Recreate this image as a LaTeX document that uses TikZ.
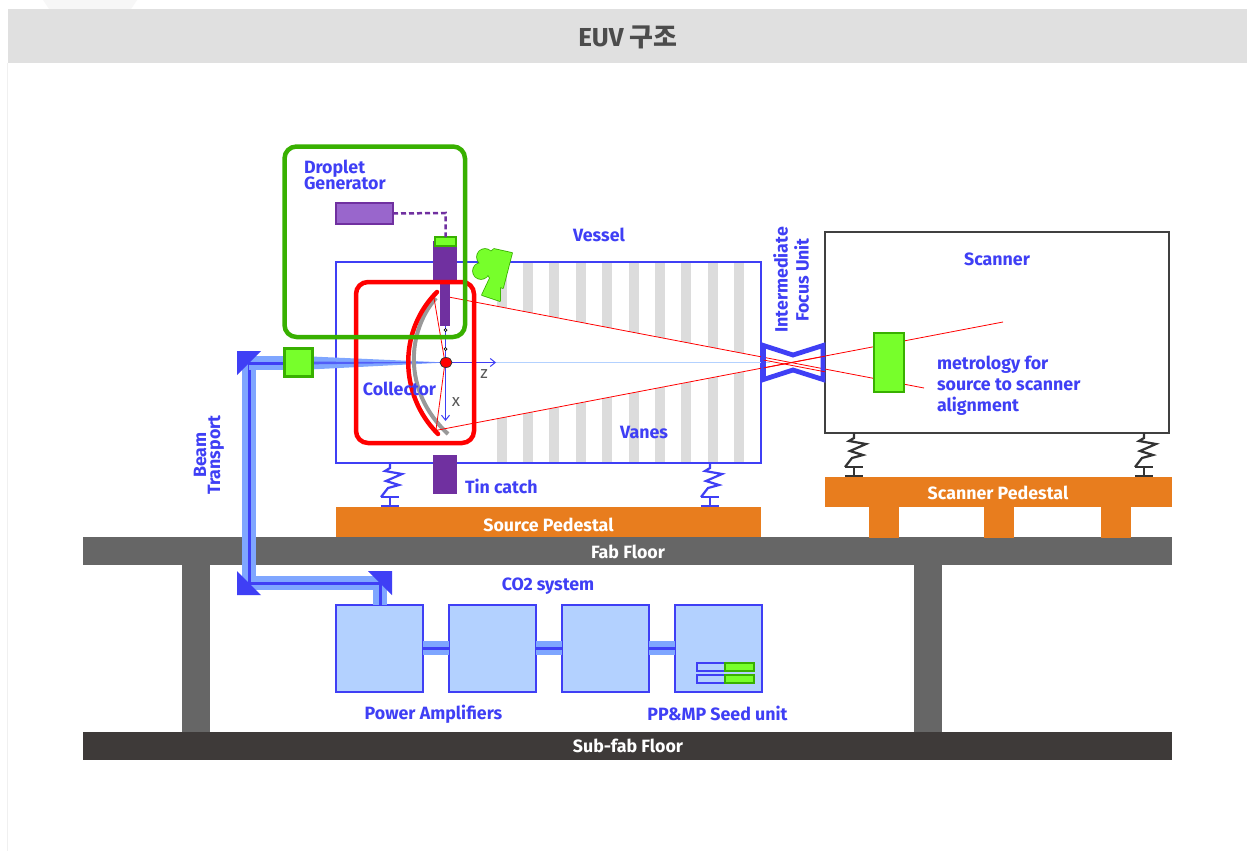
\documentclass[tikz,border=0pt]{standalone}
\usepackage{fontspec}
\setmainfont{Fira Sans}
\newfontfamily\cjk{Noto Sans CJK KR}
\usetikzlibrary{calc,arrows.meta,shapes.geometric}
\definecolor{blu}{HTML}{3F3FF5}
\definecolor{lblu}{HTML}{B3D1FF}
\definecolor{mblu}{HTML}{7FA6FF}
\definecolor{grn}{HTML}{38B000}
\definecolor{lgrn}{HTML}{77FF2B}
\definecolor{pur}{HTML}{7030A0}
\definecolor{lpur}{HTML}{9966CC}
\definecolor{org}{HTML}{E87D1E}
\definecolor{fab}{HTML}{666666}
\definecolor{sub}{HTML}{3E3A39}
\definecolor{van}{HTML}{DCDCDC}
\tikzset{
 every node/.style={outer sep=0pt},
 lbl/.style={font=\bfseries\fontsize{17.8}{16}\selectfont,text=blu,inner sep=0pt,align=left},
 wlbl/.style={font=\bfseries\fontsize{17.8}{16}\selectfont,text=white,inner sep=0pt},
 box/.style={draw=blu,line width=2.5pt,fill=lblu,anchor=north west,inner sep=0pt},
 vane/.style={fill=van,draw=none},
 beamw/.style={draw=mblu,line width=14pt},
 beamn/.style={draw=blu,line width=3pt},
 redray/.style={draw=red,line width=0.8pt},
 corner/.style={fill=blu,draw=none},
 grnbox/.style={draw=grn,line width=2.5pt,fill=lgrn,anchor=north west,inner sep=0pt},
 spring/.style={line width=2.2pt,line join=miter},
 axarrow/.style={draw=blu,line width=1pt,-{Straight Barb[length=5pt,width=8pt]}},
}
\begin{document}
\begin{tikzpicture}[x=1pt,y=-1pt,line cap=butt]
\useasboundingbox (0,0) rectangle (1247,851);
\fill[white] (0,0) rectangle (1247,851);
\fill[black!3] (43,0) -- (137,0) -- (131,9) -- (49,9) -- cycle;
\draw[draw=black!6,line width=1pt] (7.5,63) -- (7.5,851);
\node[anchor=north west,inner sep=0pt,fill=black!12,minimum width=1239pt,minimum height=54pt] (head) at (8,9) {};
\node[font=\bfseries\fontsize{26}{26}\selectfont,text=black!70,inner sep=0pt] (title) at (628,37) {EUV {\cjk 구조}};
% vanes
\foreach \x in {497,523,549,576,602,629,655,681,708,734}{\fill[vane] (\x,263) rectangle (\x+10,463);}
\fill[white] (447,296.7) -- (761,357) -- (761,368.6) -- (436,430.4) -- cycle;
% floors
\node[anchor=north west,inner sep=0pt,fill=fab,minimum width=28pt,minimum height=190pt] (colA) at (182,545) {};
\node[anchor=north west,inner sep=0pt,fill=fab,minimum width=28pt,minimum height=190pt] (colB) at (914,545) {};
\node[anchor=north west,inner sep=0pt,fill=fab,minimum width=1089pt,minimum height=28pt] (fab) at (83,537) {};
\node[wlbl] (fabL) at (628,551.5) {Fab Floor};
\node[anchor=north west,inner sep=0pt,fill=sub,minimum width=1089pt,minimum height=28pt] (subfab) at (83,732) {};
\node[wlbl] (subL) at (628,745.5) {Sub-fab Floor};
% pedestals
\node[anchor=north west,inner sep=0pt,fill=org,minimum width=425pt,minimum height=30pt] (spd) at (336,507) {};
\node[wlbl] (spdL) at (548.5,524.5) {Source Pedestal};
\foreach \x/\n in {869/a,984/b,1101/c}{\node[anchor=north west,inner sep=0pt,fill=org,minimum width=30pt,minimum height=31pt] (leg\n) at (\x,507) {};}
\node[anchor=north west,inner sep=0pt,fill=org,minimum width=347pt,minimum height=30pt] (scp) at (825,477) {};
\node[wlbl] (scpL) at (998,493) {Scanner Pedestal};
% Vessel
\node[anchor=north west,draw=blu,line width=2.5pt,inner sep=0pt,minimum width=425pt,minimum height=201pt] (vessel) at (336,262) {};
\node[anchor=north west,draw=black!75,line width=2.5pt,fill=white,inner sep=0pt,minimum width=344pt,minimum height=201pt] (scanner) at (825,232) {};
% springs
\foreach \x/\y/\c in {390/463/blu,710/463/blu,854/433/black!80,1144/433/black!80}{
 \begin{scope}[shift={(\x,\y)}]
 \draw[spring,draw=\c] (0,0) -- (0,5) -- (-5,8) -- (12,11) -- (-4,18) -- (9,22) -- (-2,25) -- (-9,34);
 \draw[spring,draw=\c] (-9,34) -- (9,34) (0,34) -- (0,43) (-9,43) -- (9,43);
 \end{scope}}
% EUV axis
\draw[draw=lblu,line width=1.8pt] (446,362.5) -- (770,362.5);
% beams CO2
\coordinate (bA) at (249,363);
\coordinate (bB) at (249,583);
\coordinate (bC) at (380,583);
\node[box,minimum width=87pt,minimum height=87pt] (p1) at (336,605) {};
\node[box,minimum width=87pt,minimum height=87pt] (p2) at (449,605) {};
\node[box,minimum width=87pt,minimum height=87pt] (p3) at (562,605) {};
\node[box,minimum width=87pt,minimum height=87pt] (p4) at (675,605) {};
\draw[beamw,line join=miter] (bA) -- (bB) -- (bC) -- (p1.north -| bC);
\draw[beamn,line join=miter] (bA) -- (bB) -- (bC) -- (p1.north -| bC);
\foreach \a/\b in {p1/p2,p2/p3,p3/p4}{
 \draw[draw=mblu,line width=14pt] (\a.east |- 0,648) -- (\b.west |- 0,648);
 \draw[beamn] (\a.east |- 0,648) -- (\b.west |- 0,648);}
% input beam cone
\coordinate (foc) at (446,362.5);
\draw[beamw] (bA) -- (300,363);
\draw[beamn] (bA) -- (300,363);
\fill[mblu] (300,356) -- (foc) -- (300,370) -- cycle;
\fill[blu!70!mblu] (300,361.5) -- (foc) -- (300,364.5) -- cycle;
% corner prisms
\fill[corner] (237,351) -- (261,351) -- (237,375) -- cycle;
\fill[corner] (237,595) -- (261,595) -- (237,571) -- cycle;
\fill[corner] (392,571) -- (392,595) -- (368,571) -- cycle;
% seed inner
\node[anchor=north west,draw=blu,line width=2.2pt,fill=lblu,inner sep=0pt,minimum width=29pt,minimum height=8pt] (s1) at (697,663) {};
\node[anchor=north west,draw=blu,line width=2.2pt,fill=lblu,inner sep=0pt,minimum width=29pt,minimum height=8pt] (s2) at (697,675) {};
\node[grnbox,line width=2.2pt,minimum width=29pt,minimum height=8pt] (g1) at (725,663) {};
\node[grnbox,line width=2.2pt,minimum width=29pt,minimum height=8pt] (g2) at (725,675) {};
% Collector mirrors
\draw[draw=black!40,line width=4pt] (436,298) .. controls (408,330) and (401,390) .. (448,434);
\draw[draw=red,line width=4.5pt,line cap=round] (437,292) .. controls (398,331) and (399,395) .. (438,434);
% rays
\draw[redray] (434,298) -- (445,362.5) -- (436,430);
\draw[redray] (447,296.7) -- (924,388);
\draw[redray] (436,430.4) -- (1003,322);
% droplet path
\draw[draw=blu,line width=0.8pt] (445.5,326) -- (445.5,362);
% axes
\draw[axarrow] (446,362.5) -- (496,362.5);
\draw[axarrow] (445.5,362.5) -- (445.5,421);
\node[font=\fontsize{17}{17}\selectfont,text=black!65,inner sep=0pt] (zL) at (484,374) {z};
\node[font=\fontsize{17}{17}\selectfont,text=black!65,inner sep=0pt] (xL) at (456,402) {x};
% droplet gen
\node[anchor=north west,inner sep=0pt,fill=pur,minimum width=24pt,minimum height=43pt] (dtop) at (433,241) {};
\node[anchor=north west,inner sep=0pt,fill=pur,minimum width=10pt,minimum height=43pt] (dneck) at (440,283) {};
\node[anchor=north west,draw=pur,line width=2.5pt,fill=lpur,inner sep=0pt,minimum width=57pt,minimum height=21pt] (dbox) at (336,203) {};
\node[grnbox,minimum width=21pt,minimum height=9pt] (dhead) at (435,237) {};
\draw[draw=pur,line width=2.5pt,dash pattern=on 5pt off 3pt] (dbox.east) -- (445.5,213) -- (dhead.north);
\node[anchor=north west,inner sep=0pt,fill=pur,minimum width=24pt,minimum height=39pt] (catch) at (433,455) {};
\foreach \y/\n in {330/a,349/b}{\node[circle,draw=black,fill=white,line width=0.7pt,inner sep=0pt,minimum size=3pt] (dr\n) at (445.5,\y) {};}
\node[ellipse,draw=black!80,fill=red,line width=0.7pt,inner sep=0pt,minimum width=12pt,minimum height=10pt] (drop) at (446,362.5) {};
% frames
\draw[draw=red,line width=4.5pt,rounded corners=12pt] (356,282) rectangle (474,443);
\draw[draw=grn,line width=4.5pt,rounded corners=12pt] (284.5,146.5) rectangle (465,337);
% IF
\draw[draw=blu,line width=4.8pt,line join=miter] (763.5,345.5) -- (793,355) -- (823,345.5) -- (823,379.5) -- (793,370) -- (763.5,379.5) -- cycle;
\draw[redray] (763.5,360) -- (825,371.8);
\draw[redray] (763.5,368) -- (825,356.2);
% metrology box
\node[grnbox,minimum width=30pt,minimum height=59pt] (met) at (874,333) {};
% camera
\draw[draw=grn,line width=1.6pt,line join=round] (494,249) -- (512,253) -- (503,288) -- (500,287) -- (500,301) -- (482,295) -- (490,278) -- (485,270) -- (485,257) -- cycle (485,257) circle[radius=8] (481,271) circle[radius=8];
\fill[lgrn] (494,249) -- (512,253) -- (503,288) -- (500,287) -- (500,301) -- (482,295) -- (490,278) -- (485,270) -- (485,257) -- cycle (485,257) circle[radius=8] (481,271) circle[radius=8];
% labels
\node[lbl,anchor=north west] (dgL) at (304,160) {Droplet\\[-2pt]Generator};
\node[lbl] (veL) at (599,235) {Vessel};
\node[lbl] (scL) at (997,259) {Scanner};
\node[lbl] (coL) at (399.5,389) {Collector};
\node[lbl] (vaL) at (644,432) {Vanes};
\node[lbl,anchor=west] (tiL) at (465,486) {Tin catch};
\node[lbl,anchor=west,font=\bfseries\fontsize{17.8}{21}\selectfont] (meL) at (937,385.5) {metrology for\\source to scanner\\alignment};
\node[lbl,rotate=90,align=center] (btL) at (209,455) {Beam\\[-2pt]Transport};
\node[lbl,rotate=90,align=center,font=\bfseries\fontsize{17.8}{21}\selectfont] (ifL) at (791,280) {Intermediate\\Focus Unit};
\node[lbl] (coS) at (548,586) {CO2 system};
\node[lbl] (paL) at (433.5,714) {Power Amplifiers};
\node[lbl] (seL) at (717.5,713) {PP\&MP Seed unit};
% beam sensor
\node[grnbox,minimum width=28pt,minimum height=28pt] (sens) at (284.5,348.5) {};
\end{tikzpicture}
\end{document}
